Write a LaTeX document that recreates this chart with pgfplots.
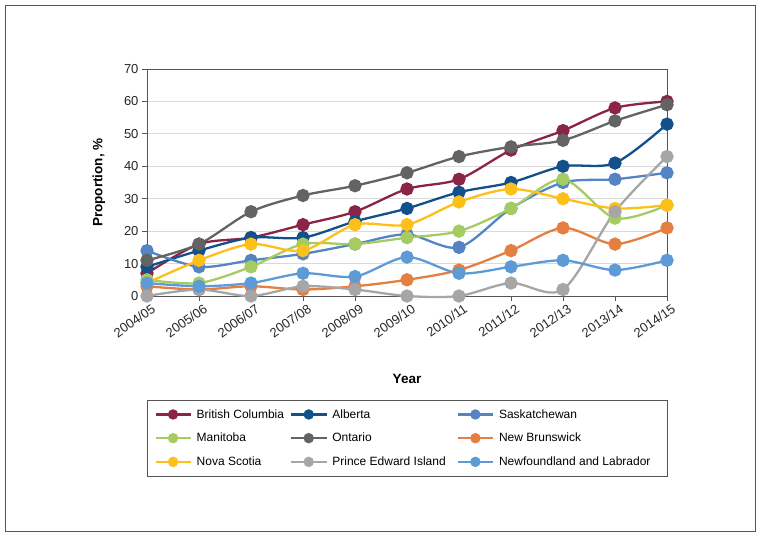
\documentclass[border=0pt]{standalone}
\usepackage{fontspec}
\setmainfont{Liberation Sans}
\usepackage{pgfplots}
\pgfplotsset{compat=1.18}

\definecolor{cBC}{HTML}{8B2548}
\definecolor{cAB}{HTML}{12508C}
\definecolor{cSK}{HTML}{5584C2}
\definecolor{cMB}{HTML}{A4CC62}
\definecolor{cON}{HTML}{636363}
\definecolor{cNB}{HTML}{E47F41}
\definecolor{cNS}{HTML}{FDBF1A}
\definecolor{cPE}{HTML}{A6A6A6}
\definecolor{cNL}{HTML}{5E9BD6}
\definecolor{frame}{HTML}{555555}

\begin{document}
\begin{tikzpicture}
\useasboundingbox (0pt,0pt) rectangle (760pt,-536pt);
\draw[frame, line width=0.8pt] (5pt,-5pt) rectangle (755pt,-531pt);
\begin{axis}[
  at={(147pt,-296pt)}, anchor=south west,
  scale only axis, width=520pt, height=227pt,
  xmin=0, xmax=10, ymin=0, ymax=70,
  clip=false,
  xtick={0,...,10},
  xticklabels={2004/05,2005/06,2006/07,2007/08,2008/09,2009/10,2010/11,2011/12,2012/13,2013/14,2014/15},
  x tick label style={rotate=35, anchor=north east, inner sep=1pt, yshift=-3pt, xshift=3pt},
  ytick={0,10,...,70},
  ymajorgrids, grid style={line width=1pt, gray!30},
  axis line style={frame, line width=0.8pt},
  tick style={frame, line width=0.8pt},
  tick align=outside, major tick length=5pt,
  xtick pos=bottom, ytick pos=left,
  tick label style={font=\fontsize{13}{15}\selectfont, color=black!85},
  /pgf/number format/assume math mode=true,
  xlabel={\bfseries Year}, ylabel={\bfseries Proportion, \%},
  label style={font=\fontsize{13.5}{15}\selectfont\bfseries},
  xlabel style={yshift=-31pt},
  ylabel style={yshift=12pt},
  every axis plot/.append style={smooth, tension=0.5, line width=2.3pt, mark=*, mark size=5.5pt},
  legend columns=3,
  legend style={at={(0,-0.458)}, anchor=north west, draw=frame, line width=0.8pt,
    font=\fontsize{12}{14}\selectfont, row sep=9.5pt, column sep=3pt,
    inner xsep=7pt, inner ysep=7pt, /tikz/every even column/.append style={column sep=4pt}},
  legend cell align=left,
  legend image code/.code={\draw[mark repeat=2,mark phase=2,mark size=4pt] plot coordinates {(0pt,0pt)(17.5pt,0pt)(35pt,0pt)};},
]
\addplot[cBC, mark options={fill=cBC}] coordinates {(0,7)(1,16)(2,18)(3,22)(4,26)(5,33)(6,36)(7,45)(8,51)(9,58)(10,60)};
\addlegendentry{British Columbia}
\addplot[cAB, mark options={fill=cAB}] coordinates {(0,9)(1,14)(2,18)(3,18)(4,23)(5,27)(6,32)(7,35)(8,40)(9,41)(10,53)};
\addlegendentry{Alberta}
\addplot[cSK, mark options={fill=cSK}] coordinates {(0,14)(1,9)(2,11)(3,13)(4,16)(5,19)(6,15)(7,27)(8,35)(9,36)(10,38)};
\addlegendentry{Saskatchewan}
\addplot[cMB, mark options={fill=cMB}] coordinates {(0,5)(1,4)(2,9)(3,16)(4,16)(5,18)(6,20)(7,27)(8,36)(9,24)(10,28)};
\addlegendentry{Manitoba}
\addplot[cON, mark options={fill=cON}] coordinates {(0,11)(1,16)(2,26)(3,31)(4,34)(5,38)(6,43)(7,46)(8,48)(9,54)(10,59)};
\addlegendentry{Ontario}
\addplot[cNB, mark options={fill=cNB}] coordinates {(0,3)(1,2)(2,3)(3,2)(4,3)(5,5)(6,8)(7,14)(8,21)(9,16)(10,21)};
\addlegendentry{New Brunswick}
\addplot[cNS, mark options={fill=cNS}] coordinates {(0,4)(1,11)(2,16)(3,14)(4,22)(5,22)(6,29)(7,33)(8,30)(9,27)(10,28)};
\addlegendentry{Nova Scotia}
\addplot[cPE, mark options={fill=cPE}] coordinates {(0,0)(1,2)(2,0)(3,3)(4,2)(5,0)(6,0)(7,4)(8,2)(9,26)(10,43)};
\addlegendentry{Prince Edward Island\kern5pt}
\addplot[cNL, mark options={fill=cNL}] coordinates {(0,4)(1,3)(2,4)(3,7)(4,6)(5,12)(6,7)(7,9)(8,11)(9,8)(10,11)};
\addlegendentry{Newfoundland and Labrador\kern8pt}
\end{axis}
\end{tikzpicture}
\end{document}
